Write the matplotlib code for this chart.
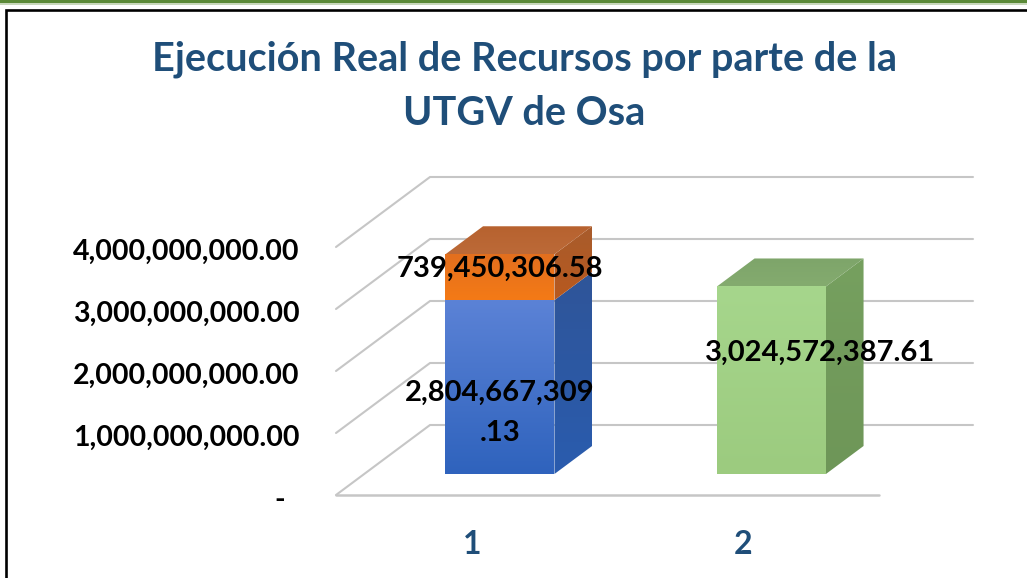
import numpy as np
import matplotlib
matplotlib.use("Agg")
import matplotlib.pyplot as plt
from matplotlib.lines import Line2D
from matplotlib.patches import Polygon, Rectangle
from matplotlib.colors import LinearSegmentedColormap
from matplotlib.transforms import ScaledTranslation

title = "Ejecución Real de Recursos por parte de la\nUTGV de Osa"
categories = [1, 2]
series_blue = [2804667309.13, 0]
series_orange = [739450306.58, 0]
series_green = [0, 3024572387.61]
y_ticks = [0, 1e9, 2e9, 3e9, 4e9]
y_labels = ["-  ", "1,000,000,000.00", "2,000,000,000.00", "3,000,000,000.00", "4,000,000,000.00"]
label_blue = "2,804,667,309\n.13"
label_orange = "739,450,306.58"
label_green = "3,024,572,387.61"

W, H = 1027, 578
plt.rcParams["font.family"] = ["Lato", "DejaVu Sans"]
fig = plt.figure(figsize=(W / 100, H / 100), dpi=100, facecolor="white")


def px_rect(x0, y0, x1, y1):
    return [x0 / W, 1 - y1 / H, (x1 - x0) / W, (y1 - y0) / H]


fig.add_artist(Rectangle((0, 1 - 3.5 / H), 1, 3.5 / H, transform=fig.transFigure, color="#5B8A38", lw=0))
fig.add_artist(Rectangle((0, 1 - 4.5 / H), 1, 1 / H, transform=fig.transFigure, color="#C9D8BC", lw=0))
fig.add_artist(Line2D([6.3 / W, 6.3 / W, 1], [0, 1 - 10.3 / H, 1 - 10.3 / H], transform=fig.transFigure,
                      color="black", lw=1.9, solid_joinstyle="miter"))

ax = fig.add_axes(px_rect(336, 247, 879, 495))
ax.set_facecolor("none")
for s in ax.spines.values():
    s.set_visible(False)

# oblique depth expressed in data units
DX = 94 / 271.5
DY = 70 / 62 * 1e9
BAR_W = 109 / 271.5
D0, D1 = 0.30, 0.70


def P(x, y, d):
    return (x + d * DX, y + d * DY)


GRID = "#C6C6C6"
ax.plot(*zip(P(0.5, 0, 0), P(2.5, 0, 0)), color=GRID, lw=1.8, clip_on=False, zorder=1, solid_capstyle="round")
for v in y_ticks:
    pts = [P(0.5, v, 0), P(0.5, v, 1), P(2.5, v, 1)]
    ax.plot(*zip(*pts), color=GRID, lw=1.5, clip_on=False, zorder=1, solid_capstyle="round")


def gradient_face(verts, c_top, c_bottom, z):
    poly = Polygon(verts, closed=True, fc="none", ec="none", transform=ax.transData, clip_on=False)
    ax.add_patch(poly)
    xs, ys = zip(*verts)
    cmap = LinearSegmentedColormap.from_list("g", [c_top, c_bottom])
    im = ax.imshow(np.linspace(0, 1, 64).reshape(-1, 1), cmap=cmap, aspect="auto",
                   extent=(min(xs), max(xs), min(ys), max(ys)), origin="upper", zorder=z)
    im.set_clip_path(poly)
    im.set_clip_box(fig.bbox)


def box(x, y0, y1, front, side, top=None, z=3):
    l, r = x - BAR_W / 2, x + BAR_W / 2
    gradient_face([P(l, y0, D0), P(r, y0, D0), P(r, y1, D0), P(l, y1, D0)], front[0], front[1], z + 0.3)
    gradient_face([P(r, y0, D0), P(r, y0, D1), P(r, y1, D1), P(r, y1, D0)], side[0], side[1], z)
    if top:
        gradient_face([P(l, y1, D0), P(r, y1, D0), P(r, y1, D1), P(l, y1, D1)], top[0], top[1], z)


box(categories[0], 0, series_blue[0], ("#5B82D6", "#2F63BD"), ("#2F5599", "#2A5CAE"))
box(categories[0], series_blue[0], series_blue[0] + series_orange[0], ("#E36F1E", "#F47A16"),
    ("#A85C2C", "#B8591F"), ("#B7622F", "#BC6A38"))
box(categories[1], 0, series_green[1], ("#A6D68C", "#9CCB7F"), ("#76A05F", "#6E9658"), ("#7EA56A", "#84AB6F"))
ax.set_xlim(0.5, 2.5)
ax.set_ylim(0, 4e9)
ax.set_aspect("auto")

ax.set_xticks(categories)
ax.set_xticklabels([str(c) for c in categories], fontsize=23, fontweight="bold", color="#1F4E79")
ax.set_yticks(y_ticks)
ax.set_yticklabels(y_labels, fontsize=20.5, fontweight="bold", color="black")
ax.tick_params(axis="x", length=0, pad=25)
ax.tick_params(axis="y", length=0, pad=26.5)
for t in ax.get_yticklabels():
    t.set_transform(t.get_transform() + ScaledTranslation(0, -1.5 / 72, fig.dpi_scale_trans))

lab = dict(ha="center", va="center", fontsize=21, fontweight="bold", color="black", zorder=10, linespacing=1.7)
ax.annotate(label_orange, xy=(500 / W, 1 - 269 / H), xycoords="figure fraction", **lab)
ax.annotate(label_blue, xy=(500 / W, 1 - 413 / H), xycoords="figure fraction", **lab)
ax.annotate(label_green, xy=(820 / W, 1 - 353 / H), xycoords="figure fraction", **lab)

fig.text(524 / W, 1 - 86 / H, title, ha="center", va="center", fontsize=28.5, fontweight="bold",
         color="#1F4E79", linespacing=1.55)

fig.savefig("out.png", dpi=100)
